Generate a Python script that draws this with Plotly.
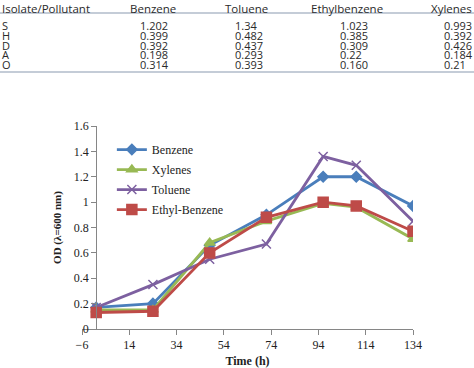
import plotly.graph_objects as go

# ---- table data ----
tbl_header = ["Isolate/Pollutant", "Benzene", "Toluene", "Ethylbenzene", "Xylenes"]
tbl_isolates = ["S", "H", "D", "A", "O"]
tbl_benzene = ["1.202", "0.399", "0.392", "0.198", "0.314"]
tbl_toluene = ["1.34", "0.482", "0.437", "0.293", "0.393"]
tbl_ethylbenzene = ["1.023", "0.385", "0.309", "0.22", "0.160"]
tbl_xylenes = ["0.993", "0.392", "0.426", "0.184", "0.21"]

# ---- chart data ----
time_h = [0, 24, 48, 72, 96, 110, 134]
benzene = [0.17, 0.20, 0.66, 0.90, 1.20, 1.20, 0.97]
xylenes = [0.15, 0.15, 0.68, 0.85, 0.99, 0.96, 0.71]
toluene = [0.17, 0.35, 0.55, 0.67, 1.36, 1.29, 0.85]
ethylbenzene = [0.13, 0.14, 0.60, 0.88, 1.00, 0.97, 0.77]
x_ticks = [-6, 14, 34, 54, 74, 94, 114, 134]

W, H = 474, 368
X0, X1 = 82, 413      # plot area px
YT, YB = 126, 329
XMIN, XMAX = -6, 134

serif = "Liberation Serif"
fig = go.Figure()

series = [
    ("Benzene", benzene, "#4a7ebb", "diamond", 8),
    ("Xylenes", xylenes, "#98b954", "triangle-up", 9),
    ("Toluene", toluene, "#7d60a0", "x-thin-open", 9),
    ("Ethyl-Benzene", ethylbenzene, "#be4b48", "square", 10),
]
for name, ys, col, sym, sz in series:
    fig.add_trace(go.Scatter(
        x=time_h, y=ys, name=name, mode="lines+markers", legendgroup=name,
        line=dict(color=col, width=2.8),
        marker=dict(symbol=sym, size=sz, color=col,
                    line=dict(color=col, width=1.5)),
    ))

dom_x = [X0 / W, X1 / W]
dom_y = [(H - YB) / H, (H - YT) / H]
ypos = dom_x[0] + (0 - XMIN) / (XMAX - XMIN) * (dom_x[1] - dom_x[0])

fig.update_layout(
    width=W, height=H,
    margin=dict(l=0, r=0, t=0, b=0, autoexpand=False),
    paper_bgcolor="white", plot_bgcolor="white",
    font=dict(family=serif, size=12, color="#222"),
    xaxis=dict(domain=dom_x, range=[XMIN, XMAX], tickvals=x_ticks,
               automargin=False,
               showgrid=False, zeroline=False, showline=True,
               linecolor="#868686", linewidth=1, ticks="outside",
               ticklen=5, tickcolor="#868686",
               tickfont=dict(family=serif, size=12, color="#222"),
               title=dict(text="<b>Time (h)</b>", standoff=5,
                          font=dict(family=serif, size=12, color="#222"))),
    yaxis=dict(domain=dom_y, range=[0, 1.6], dtick=0.2, anchor="free",
               position=ypos, showgrid=False, zeroline=False, automargin=False,
               showline=True, linecolor="#868686", linewidth=1,
               ticks="outside", ticklen=5, tickcolor="#868686",
               tickfont=dict(family=serif, size=12, color="#222"),
               title=dict(text="<b>OD (λ=600 nm)</b>", standoff=8,
                          font=dict(family=serif, size=11, color="#222"))),
    legend=dict(x=0.236, y=0.633, xanchor="left", yanchor="top",
                bgcolor="rgba(0,0,0,0)", font=dict(family=serif, size=12, color="#222"),
                tracegroupgap=1, itemwidth=30),
    showlegend=True,
)

# ---- table as text ----
sans = "Open Sans"
tcol = "#2a2a2a"
col_x = [0, 138, 233, 338, 442]
head_x = [0, 153, 246, 347, 474]
row_y = [25, 35, 45, 55, 65]

def px_x(v):
    return v / W

def px_y(v):
    return 1 - v / H

for i, h in enumerate(tbl_header):
    anc = "left" if i == 0 else ("right" if i == len(tbl_header) - 1 else "center")
    fig.add_annotation(x=px_x(head_x[i]), y=px_y(-1), xref="paper", yref="paper",
                       text=h, showarrow=False, xanchor=anc, yanchor="top",
                       font=dict(family=sans, size=11.5, color=tcol))
cols = [tbl_isolates, tbl_benzene, tbl_toluene, tbl_ethylbenzene, tbl_xylenes]
for ci, col in enumerate(cols):
    for ri, val in enumerate(col):
        fig.add_annotation(x=px_x(col_x[ci]), y=px_y(row_y[ri]), xref="paper", yref="paper",
                           text=val, showarrow=False, xanchor="left", yanchor="middle",
                           font=dict(family=sans, size=11, color=tcol))

for yy in [13, 72]:
    fig.add_shape(type="line", xref="paper", yref="paper",
                  x0=0, x1=1, y0=px_y(yy), y1=px_y(yy),
                  line=dict(color="#8a9ab0", width=1.2))

fig.write_html("out.html", config={"displayModeBar": False},
               post_script="document.body.style.margin='0px';document.body.style.overflow='hidden';")
